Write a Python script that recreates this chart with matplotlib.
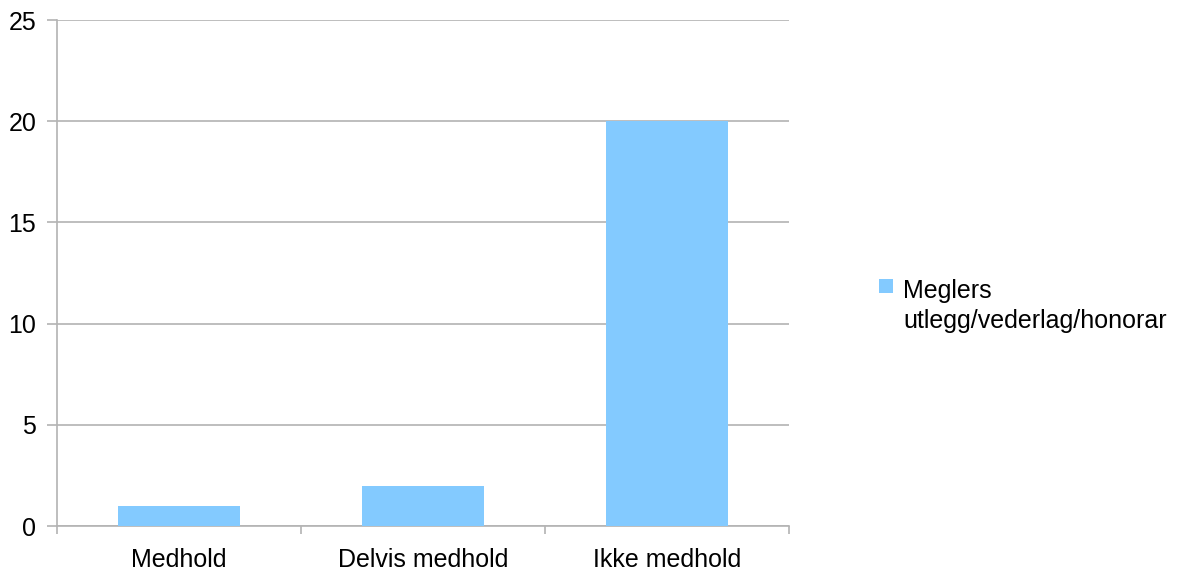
import matplotlib.pyplot as plt
import numpy as np
from matplotlib.patches import Rectangle

plt.rcParams["font.family"] = ["Liberation Sans", "DejaVu Sans"]

categories = ["Medhold", "Delvis medhold", "Ikke medhold"]
values = [1, 2, 20]
series_name = "Meglers\nutlegg/vederlag/honorar"
yticks = [0, 5, 10, 15, 20, 25]

BAR = "#83CAFF"
GRID = "#b3b3b3"
FS = 18

fig = plt.figure(figsize=(11.8, 5.73), dpi=100)
ax = fig.add_axes([57 / 1180, 47 / 573, 732 / 1180, 506 / 573])

x = np.arange(len(categories))
ax.bar(x, values, width=0.5, color=BAR, zorder=3)

ax.set_xlim(-0.5, len(categories) - 0.5)
ax.set_ylim(0, 25)
ax.set_yticks(yticks)
ax.yaxis.grid(True, color=GRID, linewidth=1.2, zorder=0)

ax.set_xticks(x)
ax.set_xticklabels(categories)
ax.set_xticks(np.arange(len(categories) + 1) - 0.5, minor=True)
ax.tick_params(axis="x", which="major", length=0, pad=16, labelsize=FS)
ax.tick_params(axis="x", which="minor", length=6, width=1.2, color=GRID, direction="out")
ax.tick_params(axis="y", length=7, width=1.2, color=GRID, pad=8, labelsize=FS)

for side in ("top", "right"):
    ax.spines[side].set_visible(False)
for side in ("left", "bottom"):
    ax.spines[side].set_color(GRID)
    ax.spines[side].set_linewidth(1.2)

# legend: swatch aligned with the first line of the label
fig.patches.append(Rectangle((879 / 1180, 1 - 293 / 573), 14 / 1180, 14 / 573,
                             transform=fig.transFigure, facecolor=BAR,
                             edgecolor="none"))
fig.text(903 / 1180, 1 - 279 / 573, series_name, fontsize=FS, va="top",
         ha="left", linespacing=1.3)

fig.savefig("out.png", dpi=100)
